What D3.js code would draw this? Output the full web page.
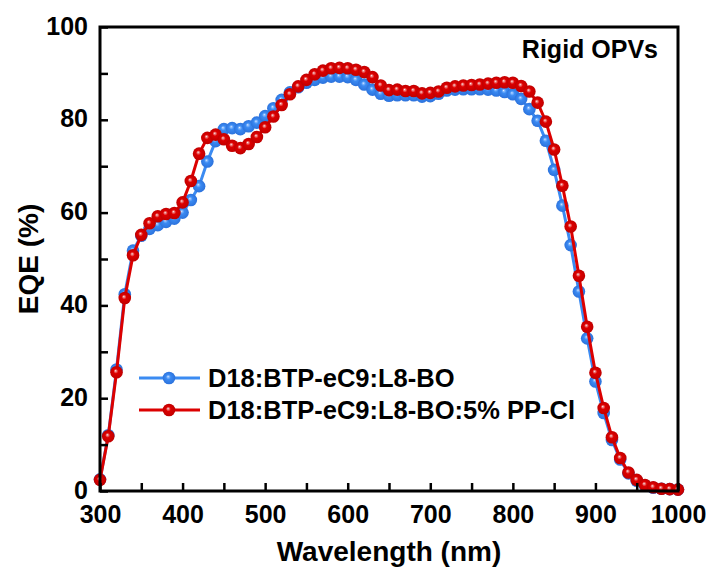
<!DOCTYPE html>
<html>
<head>
<meta charset="utf-8">
<script src="https://cdn.jsdelivr.net/npm/d3@7"></script>
<style>
  html, body { margin: 0; padding: 0; background: #fff; }
  text { font-family: "Liberation Sans", Arial, sans-serif; font-weight: bold; }
</style>
</head>
<body>
<svg id="chart" width="714" height="569"></svg>
<script>
// ---- data ----
const wavelength = [300,310,320,330,340,350,360,370,380,390,400,410,420,430,440,450,460,470,480,490,
  500,510,520,530,540,550,560,570,580,590,600,610,620,630,640,650,660,670,680,690,
  700,710,720,730,740,750,760,770,780,790,800,810,820,830,840,850,860,870,880,890,
  900,910,920,930,940,950,960,970,980,990,1000];
const eqeControl = [2.5,12.0,26.2,42.4,51.8,55.0,56.5,57.3,58.0,58.7,60.0,62.7,65.7,71.0,75.4,78.0,78.2,78.0,78.6,79.4,
  80.8,82.5,84.3,85.9,87.0,88.0,88.6,89.1,89.3,89.3,89.2,88.6,87.6,86.5,85.6,85.2,85.3,85.3,85.3,85.0,
  85.1,85.6,86.3,86.5,86.6,86.6,86.6,86.5,86.3,86.0,85.5,84.5,82.3,79.8,75.5,69.2,61.5,53.0,43.0,32.9,
  23.6,16.8,11.0,6.8,3.8,2.2,1.2,0.7,0.5,0.4,0.3];
const eqePPCl = [2.4,11.8,25.6,41.6,50.8,55.2,57.7,59.2,59.7,59.9,62.2,66.8,72.7,76.1,76.8,75.8,74.4,73.9,74.8,76.3,
  78.4,80.7,83.2,85.5,87.2,88.6,89.8,90.6,91.1,91.2,91.1,90.8,90.3,89.2,87.4,86.4,86.5,86.2,86.2,85.7,
  85.8,86.1,86.9,87.2,87.4,87.5,87.6,87.8,88.0,88.1,88.0,87.3,86.1,83.7,79.6,73.6,65.8,57.0,46.4,35.4,
  25.5,17.9,11.6,7.1,4.0,2.4,1.3,0.8,0.5,0.4,0.3];
const seriesNames = ["D18:BTP-eC9:L8-BO", "D18:BTP-eC9:L8-BO:5% PP-Cl"];
const xTickLabels = [300,400,500,600,700,800,900,1000];
const yTickLabels = [0,20,40,60,80,100];
const annotation = "Rigid OPVs";

// ---- layout ----
const W = 714, H = 569;
const margin = {left: 100, right: 36, top: 27, bottom: 78};
const svg = d3.select("#chart");
const x = d3.scaleLinear().domain([300, 1000]).range([margin.left, W - margin.right]);
const y = d3.scaleLinear().domain([0, 100]).range([H - margin.bottom, margin.top]);

// gradients for shiny markers
const defs = svg.append("defs");
function grad(id, c0, c1, c2, c3) {
  const g = defs.append("radialGradient").attr("id", id)
    .attr("cx", "0.5").attr("cy", "0.5").attr("r", "0.5")
    .attr("fx", "0.42").attr("fy", "0.38");
  g.append("stop").attr("offset", "0%").attr("stop-color", c0);
  g.append("stop").attr("offset", "12%").attr("stop-color", c1);
  g.append("stop").attr("offset", "38%").attr("stop-color", c2);
  g.append("stop").attr("offset", "100%").attr("stop-color", c3);
}
grad("gBlue", "#f4f9ff", "#8fbfff", "#3a8af2", "#2c72dc");
grad("gRed", "#fff4f4", "#ee9090", "#dc0000", "#c00000");

const series = [
  {name: seriesNames[0], values: eqeControl, color: "#3b8bf2", fill: "url(#gBlue)"},
  {name: seriesNames[1], values: eqePPCl, color: "#dc0000", fill: "url(#gRed)"}
];

const plot = svg.append("g");
const line = d3.line().x((d, i) => x(wavelength[i])).y(d => y(d));
const R = 6.3;

series.forEach(s => {
  const g = plot.append("g");
  g.append("path").datum(s.values).attr("d", line)
    .attr("fill", "none").attr("stroke", s.color).attr("stroke-width", 3);
  g.selectAll("circle").data(s.values).join("circle")
    .attr("cx", (d, i) => x(wavelength[i])).attr("cy", d => y(d))
    .attr("r", R).attr("fill", s.fill);
});

// ---- axes ----
const axisG = svg.append("g");
const xAxis = d3.axisBottom(x).tickValues(d3.range(300, 1001, 50)).tickSizeInner(-8).tickSizeOuter(0)
  .tickFormat(d => xTickLabels.includes(d) ? d : "");
const gx = axisG.append("g").attr("transform", `translate(0,${y(0)})`).call(xAxis);
gx.select(".domain").remove();
gx.selectAll(".tick line").attr("stroke", "#000").attr("stroke-width", 2.5);
gx.selectAll(".tick text").attr("font-size", 25).attr("fill", "#000").attr("y", 14).attr("dy", "0.71em");

const yAxis = d3.axisLeft(y).tickValues(d3.range(0, 101, 10)).tickSizeInner(-8).tickSizeOuter(0)
  .tickFormat(d => yTickLabels.includes(d) ? d : "");
const gy = axisG.append("g").attr("transform", `translate(${x(300)},0)`).call(yAxis);
gy.select(".domain").remove();
gy.selectAll(".tick line").attr("stroke", "#000").attr("stroke-width", 2.5);
gy.selectAll(".tick text").attr("font-size", 25).attr("fill", "#000").attr("x", -12).attr("dy", "0.28em");

// frame
axisG.append("rect").attr("x", x(300)).attr("y", y(100))
  .attr("width", x(1000) - x(300)).attr("height", y(0) - y(100))
  .attr("fill", "none").attr("stroke", "#000").attr("stroke-width", 3);

// axis titles
svg.append("text").attr("x", (x(300) + x(1000)) / 2).attr("y", 561)
  .attr("text-anchor", "middle").attr("font-size", 28).text("Wavelength (nm)");
svg.append("text").attr("transform", `translate(38,${(y(0) + y(100)) / 2}) rotate(-90)`)
  .attr("text-anchor", "middle").attr("font-size", 28).text("EQE (%)");

// annotation
svg.append("text").attr("x", 658).attr("y", 58).attr("text-anchor", "end")
  .attr("font-size", 25).text(annotation);

// legend
const legY = [378, 410];
series.forEach((s, i) => {
  const lg = svg.append("g").attr("transform", `translate(0,${legY[i]})`);
  lg.append("line").attr("x1", 139).attr("x2", 200).attr("y1", 0).attr("y2", 0)
    .attr("stroke", s.color).attr("stroke-width", 3);
  lg.append("circle").attr("cx", 169).attr("cy", 0).attr("r", R).attr("fill", s.fill);
  lg.append("text").attr("x", 208).attr("y", 0).attr("dy", "0.36em")
    .attr("font-size", 25.5).text(s.name);
});
</script>
</body>
</html>
